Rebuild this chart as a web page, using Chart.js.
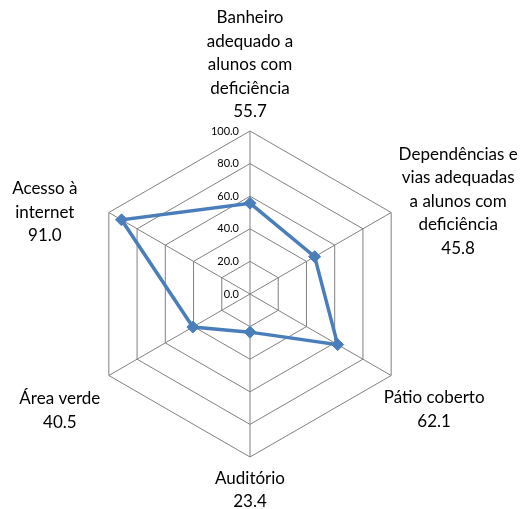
<!DOCTYPE html>
<html>
<head>
<meta charset="utf-8">
<script src="https://cdn.jsdelivr.net/npm/chart.js@4"></script>
<style>
  html, body { margin: 0; padding: 0; background: #fff; }
  #wrap { width: 523px; height: 509px; }
</style>
</head>
<body>
<div id="wrap"><canvas id="myChart" width="523" height="509"></canvas></div>
<script>
// categories (one line per array entry), clockwise from the top
const categories = [
  ['Banheiro', 'adequado a', 'alunos com', 'deficiência'],
  ['Dependências e', 'vias adequadas', 'a alunos com', 'deficiência'],
  ['Pátio coberto'],
  ['Auditório'],
  ['Área verde'],
  ['Acesso à', 'internet'],
];
const values = [55.7, 45.8, 62.1, 23.4, 40.5, 91.0];
const tickValues = [0, 20, 40, 60, 80, 100];
const tickLabels = ['0.0', '20.0', '40.0', '60.0', '80.0', '100.0'];

// where each label block sits, relative to its spoke end
const labelOffsets = [[0, -66], [67, -11], [43, 34], [0, 33], [-49, 35], [-64, 0]];

const lineColor = '#4A7EBB';
const gridColor = '#808080';
const labelFont = '17px Lato';
const labelLine = 23.5;

const labels = categories.map((lines, i) => lines.concat([values[i].toFixed(1)]));

const radarText = {
  id: 'radarText',
  afterDraw(chart) {
    const scale = chart.scales.r;
    const ctx = chart.ctx;
    ctx.save();
    ctx.fillStyle = '#000';
    // tick labels, right-aligned just left of the vertical spoke
    ctx.font = '11px Lato';
    ctx.textAlign = 'right';
    ctx.textBaseline = 'middle';
    tickValues.forEach((v, i) => {
      const y = scale.yCenter - scale.getDistanceFromCenterForValue(v);
      ctx.fillText(tickLabels[i], scale.xCenter - 11, y);
    });
    // category labels with their values
    ctx.font = labelFont;
    ctx.textAlign = 'center';
    labels.forEach((lines, i) => {
      const p = scale.getPointPosition(i, scale.drawingArea);
      const cx = p.x + labelOffsets[i][0];
      const cy = p.y + labelOffsets[i][1];
      lines.forEach((txt, k) => {
        ctx.fillText(txt, cx, cy + (k - (lines.length - 1) / 2) * labelLine);
      });
    });
    ctx.restore();
  },
};

const ctx = document.getElementById('myChart');

new Chart(ctx, {
  type: 'radar',
  data: {
    labels: labels,
    datasets: [
      {
        data: values,
        borderColor: lineColor,
        backgroundColor: lineColor,
        borderWidth: 3.5,
        fill: false,
        tension: 0,
        pointStyle: 'rectRot',
        pointRadius: 6,
        pointBackgroundColor: lineColor,
        pointBorderColor: lineColor,
        pointBorderWidth: 1,
      },
    ],
  },
  options: {
    responsive: false,
    animation: false,
    layout: {
      padding: { left: 87, right: 110, top: 131, bottom: 52 },
    },
    plugins: {
      legend: { display: false },
      tooltip: { enabled: false },
    },
    scales: {
      r: {
        min: 0,
        max: 100,
        ticks: { display: false, stepSize: 20 },
        pointLabels: { display: false },
        grid: { color: gridColor, lineWidth: 1 },
        angleLines: { color: gridColor, lineWidth: 1 },
      },
    },
  },
  plugins: [radarText],
});
</script>
</body>
</html>
